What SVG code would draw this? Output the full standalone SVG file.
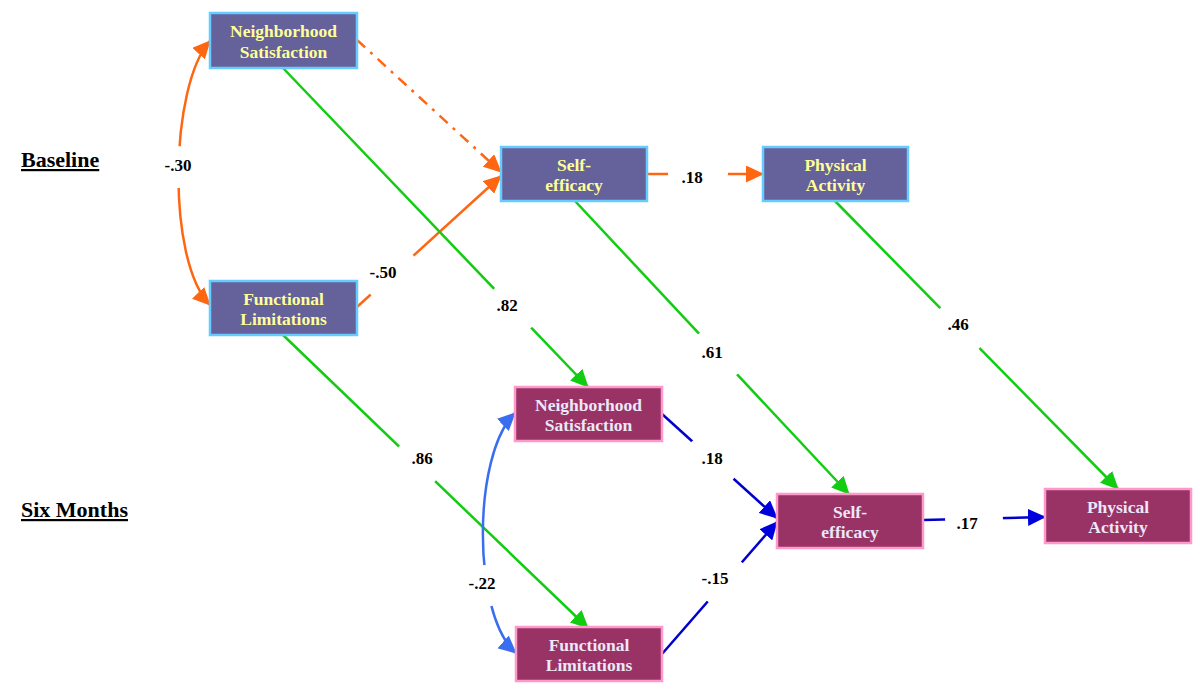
<svg xmlns="http://www.w3.org/2000/svg" width="1200" height="697" viewBox="0 0 1200 697">
<style>
.base rect{fill:#65619a;stroke:#66ccff;stroke-width:2.5}
.base text{fill:#ffff99}
.six rect{fill:#993366;stroke:#ff99cc;stroke-width:2.5}
.six text{fill:#ebe8f8}
text{font-family:'Liberation Serif','Times New Roman','DejaVu Serif',serif;font-weight:700}
.nt{font-size:17.5px;text-anchor:middle}
.lbl{font-size:17px;text-anchor:middle;fill:#000}
.hdr{font-size:22px;fill:#000;text-decoration:underline}
.c{fill:none;stroke-width:2.5}
.or{stroke:#ff6611}
.gr{stroke:#11cc11}
.bl{stroke:#0000cc}
.lb{stroke:#3a6ef0}
</style>
<defs>
<marker id="ao" markerUnits="userSpaceOnUse" markerWidth="19" markerHeight="17" refX="17" refY="8.5" orient="auto-start-reverse"><path d="M0,0 L18,8.5 L0,17 z" fill="#ff6611"/></marker>
<marker id="ag" markerUnits="userSpaceOnUse" markerWidth="19" markerHeight="17" refX="17" refY="8.5" orient="auto"><path d="M0,0 L18,8.5 L0,17 z" fill="#11cc11"/></marker>
<marker id="ab" markerUnits="userSpaceOnUse" markerWidth="19" markerHeight="17" refX="17" refY="8.5" orient="auto"><path d="M0,0 L18,8.5 L0,17 z" fill="#0000dd"/></marker>
<marker id="alb" markerUnits="userSpaceOnUse" markerWidth="19" markerHeight="17" refX="17" refY="8.5" orient="auto-start-reverse"><path d="M0,0 L18,8.5 L0,17 z" fill="#3a6ef0"/></marker>
<mask id="gaps" maskUnits="userSpaceOnUse" x="0" y="0" width="1200" height="697">
<rect x="0" y="0" width="1200" height="697" fill="#fff"/>
<circle cx="178" cy="167" r="21" fill="#000"/>
<circle cx="392" cy="275" r="29" fill="#000"/>
<circle cx="698" cy="174" r="30" fill="#000"/>
<circle cx="513" cy="308" r="27" fill="#000"/>
<circle cx="417" cy="464" r="25" fill="#000"/>
<circle cx="718" cy="354" r="28" fill="#000"/>
<circle cx="960" cy="328" r="28" fill="#000"/>
<circle cx="712" cy="461" r="28" fill="#000"/>
<circle cx="725" cy="582" r="26" fill="#000"/>
<circle cx="974" cy="519" r="29" fill="#000"/>
<circle cx="485" cy="586" r="21" fill="#000"/>
</mask>
</defs>
<rect x="0" y="0" width="1200" height="697" fill="#fff"/>

<text class="hdr" x="21" y="167">Baseline</text>
<text class="hdr" x="21" y="517">Six Months</text>

<g id="connectors">
<g mask="url(#gaps)">
<path class="c or" d="M210,41 C170,85 166,260 210,305" marker-start="url(#ao)" marker-end="url(#ao)"/>
<path class="c or" d="M357,40 L501,172" stroke-width="3" stroke-dasharray="11,7,3,7" marker-end="url(#ao)"/>
<path class="c or" d="M357,307 L501,176" marker-end="url(#ao)"/>
<path class="c or" d="M647,174 L763,174" marker-end="url(#ao)"/>
<path class="c gr" d="M283,68 L588,387" marker-end="url(#ag)"/>
<path class="c gr" d="M283,335 L588,628" marker-end="url(#ag)"/>
<path class="c gr" d="M575,201 L849,494" marker-end="url(#ag)"/>
<path class="c gr" d="M835,201 L1118,489" marker-end="url(#ag)"/>
<path class="c bl" d="M662,414 L777,518" marker-end="url(#ab)"/>
<path class="c bl" d="M662,654 L777,522" marker-end="url(#ab)"/>
<path class="c bl" d="M923,520 L1045,517" marker-end="url(#ab)"/>
<path class="c lb" d="M515,413 C472,455 472,615 516,653" marker-start="url(#alb)" marker-end="url(#alb)"/>
</g>
<text class="lbl" x="178" y="171">-.30</text>
<text class="lbl" x="383" y="278">-.50</text>
<text class="lbl" x="692" y="183">.18</text>
<text class="lbl" x="507" y="311">.82</text>
<text class="lbl" x="422" y="464">.86</text>
<text class="lbl" x="712" y="358">.61</text>
<text class="lbl" x="958" y="330">.46</text>
<text class="lbl" x="712" y="464">.18</text>
<text class="lbl" x="715" y="584">-.15</text>
<text class="lbl" x="967" y="529">.17</text>
<text class="lbl" x="482" y="589">-.22</text>
</g>

<g id="base-neighborhood" class="base">
<rect x="210" y="13" width="147" height="55"/>
<text class="nt" x="283.5" y="37">Neighborhood</text>
<text class="nt" x="283.5" y="58">Satisfaction</text>
</g>
<g id="base-selfefficacy" class="base">
<rect x="501" y="147" width="146" height="54"/>
<text class="nt" x="574" y="171">Self-</text>
<text class="nt" x="574" y="191">efficacy</text>
</g>
<g id="base-physical" class="base">
<rect x="763" y="147" width="145" height="54"/>
<text class="nt" x="835.5" y="171">Physical</text>
<text class="nt" x="835.5" y="191">Activity</text>
</g>
<g id="base-functional" class="base">
<rect x="210" y="281" width="147" height="54"/>
<text class="nt" x="283.5" y="305">Functional</text>
<text class="nt" x="283.5" y="325">Limitations</text>
</g>
<g id="six-neighborhood" class="six">
<rect x="515" y="387" width="147" height="54"/>
<text class="nt" x="588.5" y="411">Neighborhood</text>
<text class="nt" x="588.5" y="431">Satisfaction</text>
</g>
<g id="six-selfefficacy" class="six">
<rect x="777" y="494" width="146" height="54"/>
<text class="nt" x="850" y="518">Self-</text>
<text class="nt" x="850" y="538">efficacy</text>
</g>
<g id="six-physical" class="six">
<rect x="1045" y="489" width="146" height="54"/>
<text class="nt" x="1118" y="513">Physical</text>
<text class="nt" x="1118" y="533">Activity</text>
</g>
<g id="six-functional" class="six">
<rect x="516" y="627" width="146" height="54"/>
<text class="nt" x="589" y="651">Functional</text>
<text class="nt" x="589" y="671">Limitations</text>
</g>
</svg>
